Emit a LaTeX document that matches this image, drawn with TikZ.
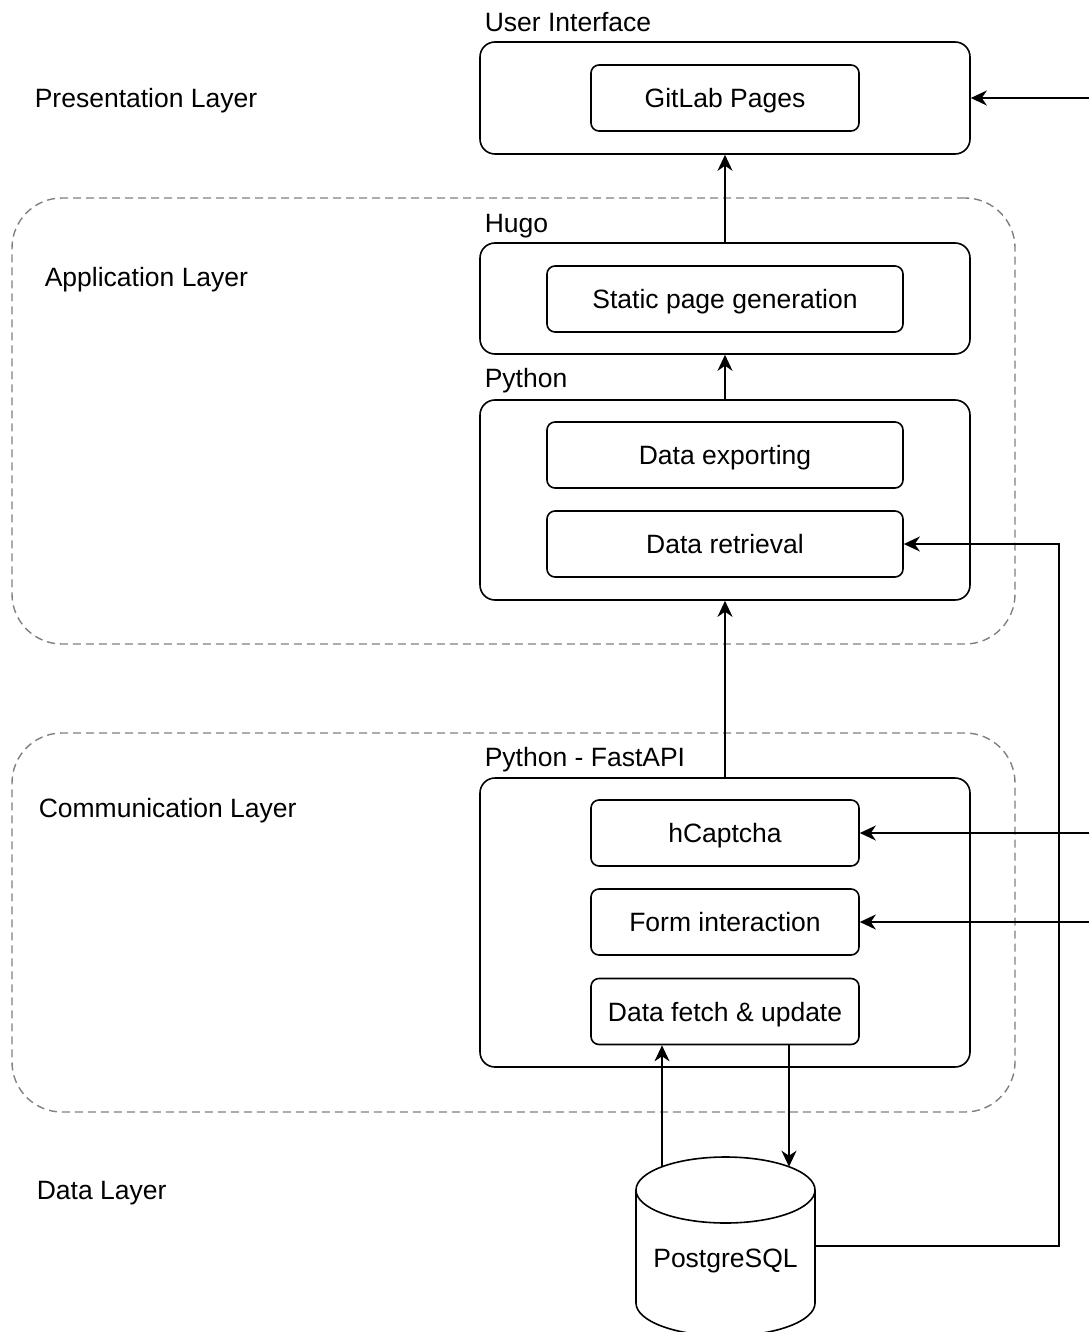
\documentclass[tikz,border=0pt]{standalone}
\usepackage{fontspec}
\setmainfont{Liberation Sans}
\usetikzlibrary{arrows.meta}
\begin{document}
\begin{tikzpicture}[x = 1pt, y = -1pt, line width = 1.6pt,
    font = \fontsize{26.5}{32}\selectfont,
    tier/.style = {draw, rounded corners = 15pt, minimum width = 490pt, inner sep = 0pt},
    unit/.style = {draw, rounded corners = 8pt, minimum height = 66pt, inner sep = 0pt,
      text height = 19pt, text depth = 0pt},
    layer/.style = {draw = gray, dash pattern = on 8pt off 5pt, line width = 1.4pt,
      rounded corners = 50pt, minimum width = 1003pt, inner sep = 0pt},
    caption/.style = {anchor = base west, inner sep = 0pt},
    flow/.style = {-{Stealth[length = 16pt, width = 15pt, inset = 5pt]}}]
  \useasboundingbox (0, 0) rectangle (1089, 1332);
  \node [layer, minimum height = 446pt] (applayer) at (513.5, 421) {};
  \node [layer, minimum height = 379pt] (commlayer) at (513.5, 922.5) {};
  \node [caption] (presname) at (34, 107.3) {Presentation Layer};
  \node [caption] (appname) at (44, 286.5) {Application Layer};
  \node [caption] (commname) at (38, 817.3) {Communication Layer};
  \node [caption] (dataname) at (36, 1199.5) {Data Layer};
  \node [caption] (uilabel) at (484, 31.7) {User Interface};
  \node [caption] (hugolabel) at (484, 232.3) {Hugo};
  \node [caption] (pylabel) at (484, 387.3) {Python};
  \node [caption] (apilabel) at (484, 766.7) {Python - FastAPI};
  \node [tier, minimum height = 112pt] (ui) at (725, 98) {};
  \node [tier, minimum height = 111pt] (hugo) at (725, 298.5) {};
  \node [tier, minimum height = 200pt] (python) at (725, 500) {};
  \node [tier, minimum height = 289pt] (fastapi) at (725, 922.5) {};
  \node [unit, minimum width = 268pt] (gitlab) at (725, 98) {GitLab Pages};
  \node [unit, minimum width = 356pt] (staticgen) at (725, 299) {Static page generation};
  \node [unit, minimum width = 356pt] (export) at (725, 455) {Data exporting};
  \node [unit, minimum width = 356pt] (retrieval) at (725, 544) {Data retrieval};
  \node [unit, minimum width = 268pt] (hcaptcha) at (725, 833) {hCaptcha};
  \node [unit, minimum width = 268pt] (form) at (725, 922) {Form interaction};
  \node [unit, minimum width = 268pt] (fetch) at (725, 1011.5) {Data fetch \& update};
  \draw (636, 1190) -- (636, 1303) arc [start angle = 180, end angle = 360,
    x radius = 89.5pt, y radius = 33pt] -- (815, 1190);
  \draw (725.5, 1190) ellipse [x radius = 89.5pt, y radius = 33pt];
  \node [inner sep = 0pt, text height = 19pt, text depth = 0pt] (pgsql) at (725.5, 1258) {PostgreSQL};
  \coordinate (pgin) at (662, 1166.7);
  \coordinate (pgout) at (789, 1166.7);
  \coordinate (pgside) at (815, 1246);
  \coordinate (pgbend) at (1059, 1246);
  \coordinate (uiin) at (1089, 98);
  \draw [flow] (hugo.north) -- (ui.south);
  \draw [flow] (python.north) -- (hugo.south);
  \draw [flow] (fastapi.north) -- (python.south);
  \draw [flow] (uiin) -- (ui.east);
  \foreach \n in {hcaptcha, form}
  \draw [flow] (\n.east -| uiin) -- (\n.east);
  \draw [flow] (pgin) -- (pgin |- fetch.south);
  \draw [flow] (pgout |- fetch.south) -- (pgout);
  \draw [flow] (pgside) -- (pgbend) |- (retrieval.east);
\end{tikzpicture}
\end{document}
